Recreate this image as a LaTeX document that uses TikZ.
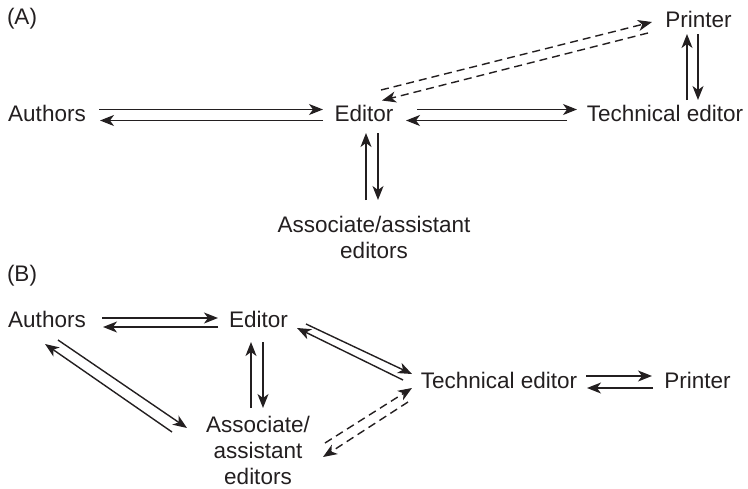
\documentclass[tikz,border=0pt]{standalone}
\usepackage{fontspec}
\setmainfont{Liberation Sans}
\usetikzlibrary{arrows.meta}
\definecolor{ink}{HTML}{231F20}
\begin{document}
\begin{tikzpicture}[x=1pt,y=-1pt,
  lbl/.style={anchor=base, inner sep=0pt, text=ink, font=\fontsize{22.5}{26}\selectfont},
  mlbl/.style={lbl, anchor=north, align=center},
  con/.style={draw=ink, line width=1.4pt, -{Stealth[length=14pt,width=11pt,inset=4pt]}},
  dcon/.style={con, dash pattern=on 8pt off 5pt}]
\useasboundingbox (0,0) rectangle (748,488);

% ---------------- Panel A ----------------
\node[lbl] (labA) at (22,24) {(A)};
\node[lbl] (authA) at (47,121) {Authors};
\node[lbl] (edA) at (364,121) {Editor};
\node[lbl] (techA) at (665,121) {Technical editor};
\node[lbl] (prA) at (698.5,27) {Printer};
\node[mlbl] (assA) at (374,216) {Associate/assistant\\editors};

\coordinate (aAE1) at (99,109.5);  \coordinate (aAE2) at (323,109.5);
\coordinate (aEA1) at (323,120.5); \coordinate (aEA2) at (100,120.5);
\coordinate (aET1) at (417,109.5); \coordinate (aET2) at (577,109.5);
\coordinate (aTE1) at (567,120.5); \coordinate (aTE2) at (406,120.5);
\coordinate (aSE1) at (366,200);   \coordinate (aSE2) at (366,133);
\coordinate (aES1) at (378,133);   \coordinate (aES2) at (378,200);
\coordinate (aTP1) at (687,100);   \coordinate (aTP2) at (687,34);
\coordinate (aPT1) at (698,34);    \coordinate (aPT2) at (698,100);
\coordinate (aEP1) at (381,90);    \coordinate (aEP2) at (652,22);
\coordinate (aPE1) at (648,33);    \coordinate (aPE2) at (382,100.5);

\draw[con] (aAE1) -- (aAE2);
\draw[con] (aEA1) -- (aEA2);
\draw[con] (aET1) -- (aET2);
\draw[con] (aTE1) -- (aTE2);
\draw[con] (aSE1) -- (aSE2);
\draw[con] (aES1) -- (aES2);
\draw[con] (aTP1) -- (aTP2);
\draw[con] (aPT1) -- (aPT2);
\draw[dcon] (aEP1) -- (aEP2);
\draw[dcon] (aPE1) -- (aPE2);

% ---------------- Panel B ----------------
\node[lbl] (labB) at (22,281) {(B)};
\node[lbl] (authB) at (47,327) {Authors};
\node[lbl] (edB) at (258.5,327) {Editor};
\node[lbl] (techB) at (499,388) {Technical editor};
\node[lbl] (prB) at (697.5,388) {Printer};
\node[mlbl] (assB) at (258,416) {Associate/\\assistant\\editors};

\coordinate (bAE1) at (102,318);   \coordinate (bAE2) at (218,318);
\coordinate (bEA1) at (218,327);   \coordinate (bEA2) at (103,327);
\coordinate (bSE1) at (251,408);   \coordinate (bSE2) at (251,342);
\coordinate (bES1) at (263,342);   \coordinate (bES2) at (263,408);
\coordinate (bET1) at (306,324);   \coordinate (bET2) at (412,374);
\coordinate (bTE1) at (403,380);   \coordinate (bTE2) at (297,328);
\coordinate (bAS1) at (58,340);    \coordinate (bAS2) at (187,428);
\coordinate (bSA1) at (172,432);   \coordinate (bSA2) at (45,344);
\coordinate (bST1) at (325,443);   \coordinate (bST2) at (412,388);
\coordinate (bTS1) at (408,402);   \coordinate (bTS2) at (323,457);
\coordinate (bTP1) at (586,376);   \coordinate (bTP2) at (652,376);
\coordinate (bPT1) at (653,388);   \coordinate (bPT2) at (587,388);

\draw[con] (bAE1) -- (bAE2);
\draw[con] (bEA1) -- (bEA2);
\draw[con] (bSE1) -- (bSE2);
\draw[con] (bES1) -- (bES2);
\draw[con] (bET1) -- (bET2);
\draw[con] (bTE1) -- (bTE2);
\draw[con] (bAS1) -- (bAS2);
\draw[con] (bSA1) -- (bSA2);
\draw[dcon] (bST1) -- (bST2);
\draw[dcon] (bTS1) -- (bTS2);
\draw[con] (bTP1) -- (bTP2);
\draw[con] (bPT1) -- (bPT2);
\end{tikzpicture}
\end{document}
